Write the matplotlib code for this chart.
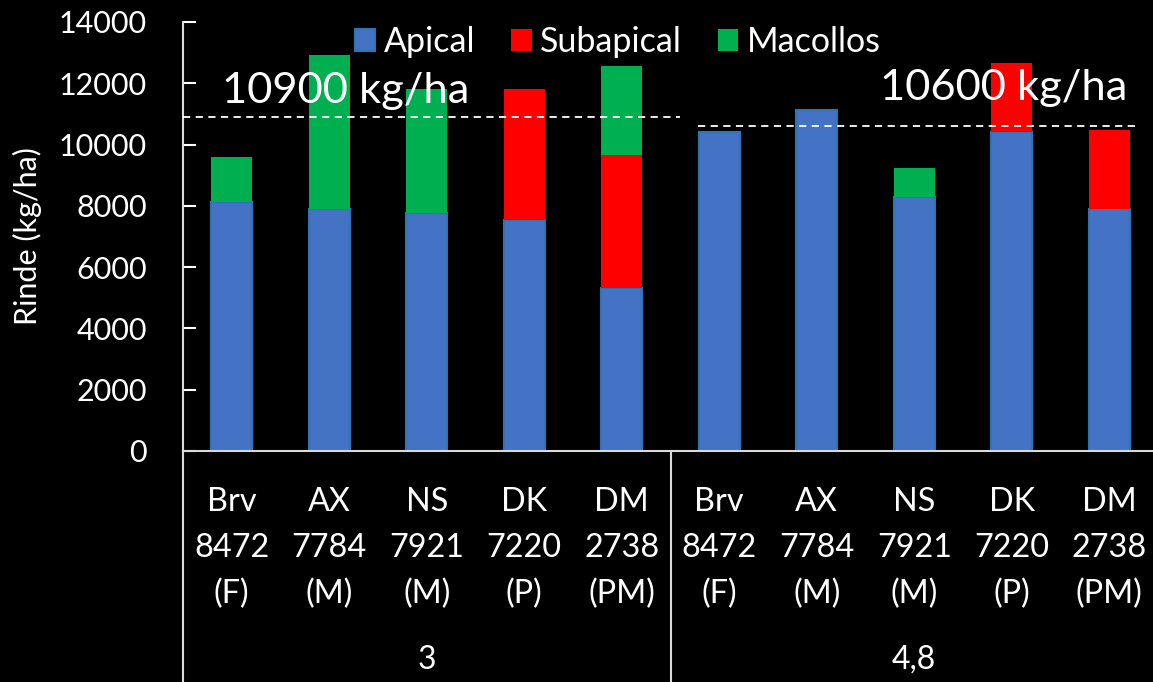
import matplotlib
matplotlib.use("Agg")
import matplotlib.pyplot as plt
import matplotlib.transforms as mtransforms
from matplotlib.lines import Line2D
import numpy as np

plt.rcParams['font.family'] = ['Lato', 'DejaVu Sans']

# Hybrids and yield components (kg/ha)
hybrids = ["Brv\n8472\n(F)", "AX\n7784\n(M)", "NS\n7921\n(M)", "DK\n7220\n(P)", "DM\n2738\n(PM)"]
densities = ["3", "4,8"]
labels = hybrids + hybrids

apical = [8130, 7890, 7770, 7540, 5330, 10420, 11120, 8300, 10420, 7890]
subapical = [0, 0, 0, 4260, 4320, 0, 0, 0, 2230, 2590]
macollos = [1450, 5030, 4030, 0, 2910, 0, 0, 920, 0, 0]

# Average yield per density
averages = [10900, 10600]
avg_labels = ["10900 kg/ha", "10600 kg/ha"]

series_names = ["Apical", "Subapical", "Macollos"]
c_blue, c_red, c_green = "#4472C4", "#FF0000", "#00B050"

W, H = 1153, 682
fig = plt.figure(figsize=(W / 100, H / 100), dpi=100, facecolor="black")
ax = fig.add_axes([183 / W, 1 - 451 / H, 975 / W, 429 / H], facecolor="black")

x = np.arange(len(labels))
bw = 0.42
apical_a = np.array(apical)
sub_a = np.array(subapical)
mac_a = np.array(macollos)

ax.bar(x, apical_a, bw, color=c_blue, edgecolor="#2E75B6", linewidth=1.5, label=series_names[0], zorder=2)
ax.bar(x, sub_a, bw, bottom=apical_a, color=c_red, linewidth=0, label=series_names[1], zorder=2)
ax.bar(x, mac_a, bw, bottom=apical_a + sub_a, color=c_green, linewidth=0, label=series_names[2], zorder=2)

ax.set_xlim(-0.5, 9.5)
ax.set_ylim(0, 14000)
ax.set_yticks(np.arange(0, 14001, 2000))
ax.tick_params(axis="y", colors="white", labelcolor="white", labelsize=22,
               direction="in", length=9, width=1.5, pad=26)
ax.set_xticks(x)
ax.set_xticklabels(labels, color="white", fontsize=23.3, linespacing=1.66)
ax.tick_params(axis="x", length=0, pad=26)

for s in ["top", "right"]:
    ax.spines[s].set_visible(False)
ax.spines["left"].set_color("#D9D9D9")
ax.spines["left"].set_linewidth(1.5)
ax.spines["bottom"].set_color("#D9D9D9")
ax.spines["bottom"].set_linewidth(1.5)

ax.set_ylabel("Rinde (kg/ha)", color="white", fontsize=22, labelpad=12)

# Multi-level category axis: separators and density labels
trans = mtransforms.blended_transform_factory(ax.transData, ax.transAxes)
y_bottom = (451 - H) / 429
for xs in [-0.5, 4.5]:
    ax.add_line(Line2D([xs, xs], [0, y_bottom], transform=trans, color="#D9D9D9",
                       lw=1.5, clip_on=False))
for i, d in enumerate(densities):
    ax.text(2 + 5 * i, (451 - 660) / 429, d, transform=trans, color="white",
            fontsize=23, ha="center", va="center")

# Average lines with their labels
spans = [(-0.5, 4.6), (4.78, 9.26)]
text_pos = [(-0.1, 11350), (6.65, 11450)]
for avg, lab, (x0, x1), (tx, ty) in zip(averages, avg_labels, spans, text_pos):
    ax.plot([x0, x1], [avg, avg], color="white", lw=1.3, ls=(0, (4, 3)), zorder=4,
            clip_on=False)
    ax.text(tx, ty, lab, color="white", fontsize=31.3, ha="left", va="baseline", zorder=5)

leg = fig.legend(loc="center left", bbox_to_anchor=(355 / W, 1 - 42 / H), ncol=3,
                 frameon=False, fontsize=24.5, labelcolor="white", handlelength=0.6,
                 handleheight=0.6, handletextpad=0.25, columnspacing=1.05,
                 borderaxespad=0, borderpad=0)

fig.savefig("out.png", dpi=100, facecolor="black")
